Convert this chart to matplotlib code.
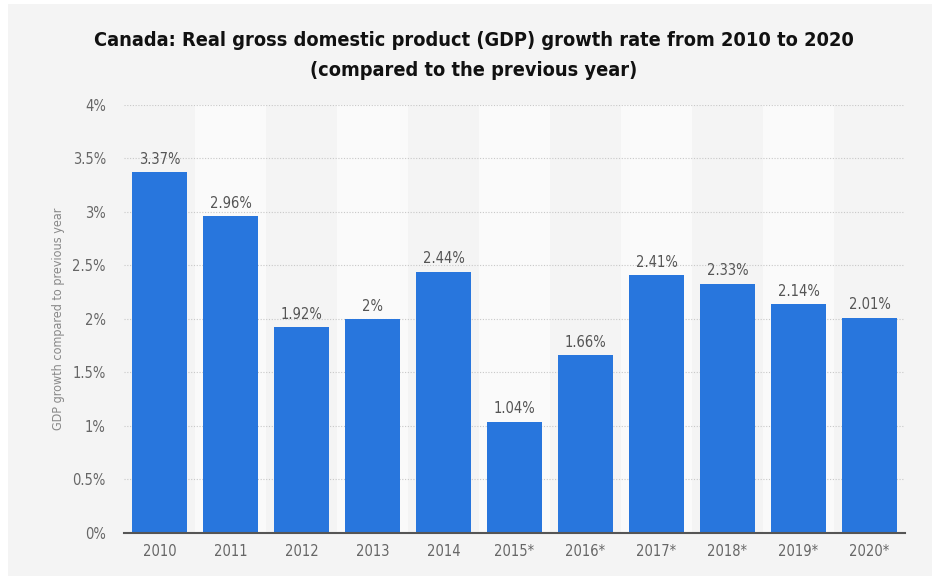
import matplotlib.pyplot as plt
from matplotlib.patches import Rectangle
from matplotlib.ticker import FuncFormatter

plt.rcParams['font.family'] = 'DejaVu Sans'
plt.rcParams['font.stretch'] = 'condensed'

# --- data ---
years = ['2010', '2011', '2012', '2013', '2014', '2015*', '2016*',
         '2017*', '2018*', '2019*', '2020*']
growth = [3.37, 2.96, 1.92, 2.0, 2.44, 1.04, 1.66, 2.41, 2.33, 2.14, 2.01]
labels = ['3.37%', '2.96%', '1.92%', '2%', '2.44%', '1.04%', '1.66%',
          '2.41%', '2.33%', '2.14%', '2.01%']
y_ticks = [0, 0.5, 1, 1.5, 2, 2.5, 3, 3.5, 4]

bg = '#f4f4f4'
fig = plt.figure(figsize=(9.32, 5.76), dpi=100, facecolor=bg)
ax = fig.add_axes([0.133, 0.0747, 0.838, 0.7433], facecolor=bg)

# white screenshot border on left and top
fig.patches.append(Rectangle((0, 0), 8 / 932, 1, transform=fig.transFigure,
                             color='white', lw=0, zorder=0))
fig.patches.append(Rectangle((0, 1 - 4 / 576), 1, 4 / 576, transform=fig.transFigure,
                             color='white', lw=0, zorder=0))

x = list(range(len(years)))

# alternating column bands
for i in x:
    if i % 2 == 1:
        ax.axvspan(i - 0.5, i + 0.5, color='#fafafa', zorder=0, lw=0)

ax.bar(x, growth, width=0.78, color='#2876dd', zorder=3)

for xi, v, lab in zip(x, growth, labels):
    ax.text(xi, v + 0.05, lab, ha='center', va='bottom', fontsize=10.5,
            color='#555555', zorder=4)

ax.set_xlim(-0.5, len(years) - 0.5)
ax.set_ylim(0, 4)
ax.set_yticks(y_ticks)
ax.yaxis.set_major_formatter(FuncFormatter(lambda v, p: f'{v:g}%'))
ax.set_xticks(x)
ax.set_xticklabels(years)
ax.tick_params(axis='both', length=0, labelsize=10.5, labelcolor='#666666')
ax.tick_params(axis='y', pad=13)
ax.tick_params(axis='x', pad=8)

ax.grid(axis='y', linestyle=(0, (1, 1.5)), color='#c8c8c8', lw=0.8, zorder=1)
for s in ['top', 'right', 'left']:
    ax.spines[s].set_visible(False)
ax.spines['bottom'].set_color('#555555')
ax.spines['bottom'].set_linewidth(1.5)
ax.spines['bottom'].set_zorder(5)

ax.set_ylabel('GDP growth compared to previous year', fontsize=9,
              color='#888888', labelpad=5)

fig.text(0.508, 0.93, 'Canada: Real gross domestic product (GDP) growth rate from 2010 to 2020',
         ha='center', va='center', fontsize=14.3, fontweight='bold', color='#111111')
fig.text(0.508, 0.878, '(compared to the previous year)',
         ha='center', va='center', fontsize=14.3, fontweight='bold', color='#111111')

fig.savefig('out.png', dpi=100, facecolor=bg)
